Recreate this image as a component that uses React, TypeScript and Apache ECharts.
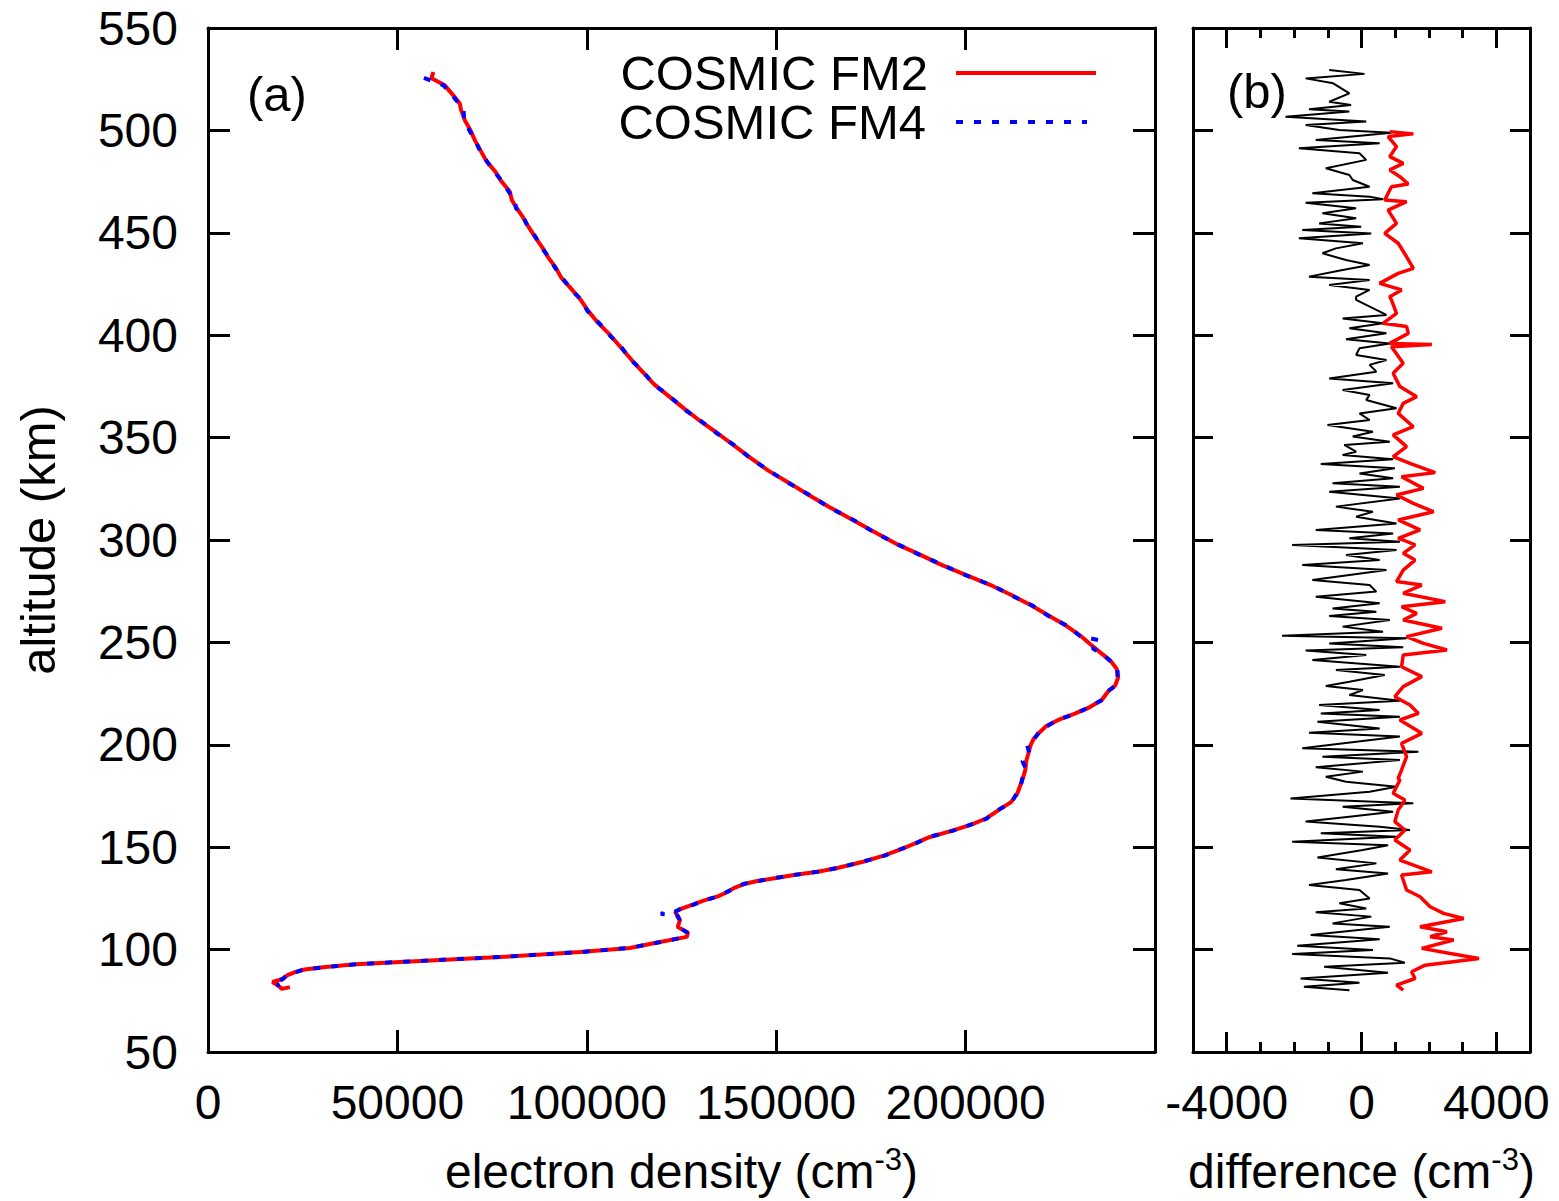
import React, { useEffect, useRef } from "react";
import * as echarts from "echarts";

// ---------- panel (a): electron density profiles ----------
const fm2Alt = [528.5, 525.5, 522, 517, 513, 510, 505, 500, 495, 490, 485, 480, 475, 470, 466, 462, 458, 453, 448, 443, 438, 433, 428, 422, 417, 412, 406, 400, 394, 388, 382, 376, 370, 364, 358, 352, 346, 340, 334, 328, 322, 316, 310, 304, 298, 293, 288, 283, 278, 273, 268, 263, 258, 253, 249, 245, 241, 237, 233, 229, 226, 222, 218, 215, 212, 209, 206, 203, 200, 196, 192, 188, 184, 180, 176, 172, 168, 164, 161, 158, 155, 152, 149, 146, 143, 140, 138, 136.5, 135, 133.5, 132, 130, 128, 126, 124, 122, 120, 118.5, 114.5, 111, 108.3, 106.2, 103.7, 100.8, 98.8, 97.6, 96.4, 95.2, 94, 92.8, 91.5, 90.3, 89, 87.5, 85.5, 84.2, 82.5, 80.8, 81.7];
const fm2Ne = [59500, 59000, 62500, 64800, 66500, 66800, 67800, 69300, 70500, 72000, 73500, 75800, 77500, 79700, 80200, 81500, 83000, 84600, 86300, 88200, 89800, 91800, 93300, 96200, 98500, 100300, 103000, 106200, 109000, 111800, 114800, 117800, 121800, 125800, 130000, 134600, 139000, 143300, 147800, 153300, 158600, 164100, 170000, 175800, 181800, 187800, 193500, 200000, 206600, 212200, 217400, 222000, 226700, 230500, 233000, 235600, 238300, 239900, 240300, 239500, 237600, 236000, 232400, 228500, 224300, 221200, 219500, 218000, 217200, 216600, 216000, 215800, 215200, 214400, 213600, 212000, 208600, 205400, 201500, 196300, 190600, 186800, 183000, 178600, 173200, 166400, 161000, 155000, 150000, 145000, 141500, 138800, 137000, 134600, 131000, 128000, 125000, 123300, 124600, 124000, 126700, 126400, 119300, 111400, 98200, 88000, 77100, 64000, 50700, 39000, 31000, 25500, 23000, 21000, 19500, 17000, 18500, 19500, 21600];

const fm4Alt = [525.6, 522, 517, 513, 510, 505, 500, 495, 490, 485, 480, 475, 470, 466, 462, 458, 453, 448, 443, 438, 433, 428, 422, 417, 412, 406, 400, 394, 388, 382, 376, 370, 364, 358, 352, 346, 340, 334, 328, 322, 316, 310, 304, 298, 293, 288, 283, 278, 273, 268, 263, 258, 253, 251, 247, 245, 241, 237, 233, 229, 226, 222, 218, 215, 212, 209, 206, 203, 200, 196, 192, 188, 184, 180, 176, 172, 168, 164, 161, 158, 155, 152, 149, 146, 143, 140, 138, 136.5, 135, 133.5, 132, 130, 128, 126, 124, 122, 120, 118.5, 117.5, 116.5, 114.5, 111, 108.3, 106.2, 103.7, 100.8, 98.8, 97.6, 96.4, 95.2, 94, 92.8, 91.5, 90.3, 89, 87.5, 85.5, 84.2, 83, 81.7];
const fm4Ne = [57000, 62200, 64500, 66300, 67500, 67600, 69000, 70600, 71800, 73600, 75500, 77700, 79400, 81000, 81300, 83200, 84400, 86500, 88000, 90000, 91600, 93500, 96000, 98700, 100100, 103200, 106000, 109200, 111600, 115000, 117600, 122000, 125600, 130200, 134400, 139200, 143100, 148000, 153100, 158800, 163900, 170200, 175600, 182000, 187600, 193700, 199800, 206800, 212000, 217600, 221800, 226900, 230300, 235500, 233500, 235800, 238100, 240100, 240100, 239700, 237400, 236200, 232200, 228700, 224100, 221400, 219300, 218200, 216200, 216800, 215000, 216000, 215000, 214600, 213400, 212200, 208400, 205600, 201300, 196500, 190400, 187000, 182800, 178800, 173000, 166600, 160800, 155200, 149800, 145200, 141300, 139000, 136800, 134800, 130800, 128200, 124800, 123300, 119500, 124000, 124400, 124200, 126500, 126200, 119500, 111200, 98400, 87800, 77300, 63800, 50900, 38800, 31200, 25300, 23200, 20800, 19700, 17200, 18500, 18500];

// ---------- panel (b): differences ----------
const diffAlt = [529.5, 527.6, 525.4, 523, 518.1, 514, 512.4, 510.3, 509.2, 506.7, 504.3, 502.6, 500.2, 498.9, 495.3, 493.7, 491.3, 488.8, 485.6, 481.5, 478.2, 475.8, 472.5, 469.3, 467.6, 466.4, 464.7, 462, 459.5, 457.1, 454.6, 453, 451.4, 449.7, 447.3, 444.9, 442.4, 440, 436.7, 434.3, 431.8, 428.6, 427, 424.5, 422.1, 418.8,
  417.2, 409.9, 408.2, 405.8, 403.4, 400.9, 398, 396, 393.6, 390.3, 387.9, 385.5, 382.2, 378.9, 376.5, 373.2, 370.8, 368.4, 364.3, 361.8, 358.6, 356.2, 352.9, 350.5, 348, 346.4, 343.1, 341.5, 339.4, 337.1, 335, 332.5, 330.1, 327.7, 326, 323.6, 320.3, 316.3, 313.8, 311.4, 308.1, 304.9, 303.2, 300.8,
  299.2, 297.6, 295.1, 292.7, 290.2, 287.8, 285.3, 280.5, 278, 274.8, 272.3, 269.1, 266.6, 265, 262.9, 260.9, 257.7, 255.2, 253.3, 252, 249.5, 247.6, 246, 243.8, 241.4, 238.1, 236.5, 234.1, 230.8, 228.7, 226.7, 224.3, 221.5, 219.4, 217, 215.3, 213.7, 211.3, 208, 205.9, 204, 198.3, 196.6, 194.2, 192.6, 189, 186.9, 184.4,
  182, 179.5, 177.1, 173.8, 171.4, 169.8, 167.3, 164.9, 162.5, 160, 158.4, 156.8, 155.1, 152.7, 151, 148.6, 145, 142.1, 139.2, 137.2, 134, 131.5, 129.1, 125, 122.6, 120.1, 118.2, 116.1, 112.8, 111.2, 107.1, 105, 101.9, 99.8, 97.8, 95.7, 93.6, 91.6, 88.7, 85.9, 83.8, 81.9, 80.2];
const diffVal = [-959, 90, -1658, -839, -360, -959, -310, -1558, -360, -2256, 140, -1658, -659, 889, -1358, 539, -1858, -60, 140, -1059, -360, -260, 240, -1458, 240, 639, -1658, -160, -1159, -160, -1258, -10, -1758, 290, -1858, 40, -759, -1159, -460, 240, -560, -1558, 240, -959, 240, -160,
  -160, 739, -560, 639, -360, 739, -460, 839, -60, -160, 739, 240, 440, -959, 939, -560, 240, 140, 1039, -60, 240, -1009, 340, -260, 839, -510, -160, -560, 939, -1209, 989, -60, 939, -859, 1139, -959, 1139, -759, 340, -160, 1039, -1358, 939, -360,
  1139, -2057, 1039, -460, 539, -1758, 739, -1458, 240, 440, -1358, 539, -859, 440, -959, 839, -560, 639, -2357, 1338, -959, 1238, -1658, 140, -1458, 1139, -759, 689, -360, -1059, 40, -360, 1139, -1258, 539, -1209, 1139, -1308, 539, -1558, 1139, -1758, 1688, -1159, 1139, -1358, 40, -1059,
  -460, 1039, 240, -2107, 1538, -560, 939, -360, -1658, 539, 1438, -1209, 1039, -2057, 789, 40, -1308, 440, -759, 789, -460, -1558, -60, 240, -659, 140, -1358, 290, -859, 839, -1508, 539, -1908, 340, -2057, 839, 1288, -1109, 789, -1808, -60, -1708, -360];

const spreadAlt = [499.4, 498.3, 497, 492.1, 487.2, 483.9, 480.7, 477.4, 473.8, 472.5, 466, 465.2, 461.1, 454.6, 449.7, 444.9, 438.3, 432.6, 430.2, 425.3, 422.1, 418.8,
  417.2, 410.7, 405.8, 404.2, 400.9, 396, 395.5, 394.4, 386.3, 381.4, 374.9, 370, 366.7, 361.8, 355.3, 351.3, 345.6, 340.7, 337.4, 332.9, 330.9, 325.2, 322, 317.9, 313.8, 309.8, 304.9, 300.8,
  300, 297.6, 293.5, 290.2, 285.3, 279.7, 278, 274, 269.9, 267.4, 264.2, 260.9, 256.9, 252.8, 249.5, 246.3, 243.8, 238.1, 233.3, 228.4, 223.5, 219.4, 215.3, 212.1, 205.6, 200.7, 194.2, 187.7, 183.6,
  182.8, 176.3, 173, 168.1, 162.5, 158.4, 153.5, 148.6, 143.7, 138, 136.4, 129.1, 125.8, 120.9, 117.7, 115.2, 111.2, 108.7, 106.3, 104.7, 100.6, 98.1, 95.7, 92.4, 89.2, 85.9, 82.7, 80.2];
const spreadVal = [839, 1538, 789, 1039, 839, 1238, 839, 1139, 1388, 889, 689, 1338, 789, 1039, 689, 1089, 1338, 1538, 1089, 539, 1189, 839,
  889, 1039, 639, 1338, 1388, 839, 2087, 889, 1238, 939, 1139, 1638, 1238, 1089, 1538, 939, 1338, 939, 1438, 2187, 1189, 1838, 1039, 1538, 2137, 1089, 1738, 1089,
  1238, 1588, 1238, 1588, 1238, 1039, 1788, 1238, 2486, 1189, 1638, 1238, 2386, 1338, 1838, 2536, 1238, 1189, 1788, 1238, 989, 1438, 1688, 1139, 1788, 1189, 1338, 1189, 1089,
  1139, 939, 1288, 1089, 989, 1288, 989, 1438, 1139, 2087, 1189, 1338, 1738, 2037, 2436, 3035, 1738, 2536, 2037, 2736, 1788, 2636, 3485, 1888, 1488, 1588, 1039, 1238];

// ---------- axes ----------
const altTicks = [50, 100, 150, 200, 250, 300, 350, 400, 450, 500, 550];
const densityTicks = [0, 50000, 100000, 150000, 200000];
const diffMajor = [-4000, 0, 4000];
const diffMinor = [-3000, -2000, -1000, 1000, 2000, 3000];

const FONT = "Liberation Sans";
const FS = 48;

const zip = (xs: number[], ys: number[]) => xs.map((x, i) => [x, ys[i]]);

export default function App() {
  const ref = useRef<HTMLDivElement>(null);
  useEffect(() => {
    if (!ref.current) return;
    const chart = echarts.init(ref.current, undefined, { renderer: "svg" });
    const axisLine = { show: true, onZero: false, lineStyle: { color: "#000", width: 3 } };
    const noLine = { show: false, onZero: false };
    const tick = (len: number, extra: any = {}) => ({ show: true, inside: true, length: len, lineStyle: { color: "#000", width: 3 }, ...extra });
    const label = { color: "#000", fontSize: FS, fontFamily: FONT };
    const rich = {
      a: { fontSize: FS, fontFamily: FONT, color: "#000", lineHeight: 54 },
      s: { fontSize: 31, fontFamily: FONT, color: "#000", verticalAlign: "top", lineHeight: 54 },
    };
    const option: any = {
      animation: false,
      backgroundColor: "#fff",
      grid: [
        { left: 208, top: 28, width: 947, height: 1024 },
        { left: 1193, top: 28, width: 337, height: 1024 },
      ],
      xAxis: [
        {
          type: "value", gridIndex: 0, position: "bottom", min: 0, max: 250000, interval: 50000,
          axisLine, axisTick: tick(22), splitLine: { show: false },
          axisLabel: { ...label, margin: 26, formatter: (v: number) => (densityTicks.includes(v) ? String(v) : "") },
          name: "{a|electron density (cm}{s|-3}{a|)}", nameLocation: "middle", nameGap: 92,
          nameTextStyle: { rich },
        },
        {
          type: "value", gridIndex: 0, position: "top", min: 0, max: 250000, interval: 50000,
          axisLine, axisTick: tick(22), axisLabel: { show: false }, splitLine: { show: false },
        },
        {
          type: "value", gridIndex: 1, position: "bottom", min: -5000, max: 5000,
          axisLine, axisTick: tick(20, { customValues: diffMajor }), splitLine: { show: false },
          axisLabel: { ...label, margin: 26, customValues: diffMajor, formatter: (v: number) => String(v) },
          name: "{a|difference (cm}{s|-3}{a|)}", nameLocation: "middle", nameGap: 92,
          nameTextStyle: { rich },
        },
        {
          type: "value", gridIndex: 1, position: "bottom", min: -5000, max: 5000,
          axisLine: noLine, axisTick: tick(10, { customValues: diffMinor }), axisLabel: { show: false }, splitLine: { show: false },
        },
        {
          type: "value", gridIndex: 1, position: "top", min: -5000, max: 5000,
          axisLine, axisTick: tick(20, { customValues: diffMajor }), axisLabel: { show: false }, splitLine: { show: false },
        },
        {
          type: "value", gridIndex: 1, position: "top", min: -5000, max: 5000,
          axisLine: noLine, axisTick: tick(10, { customValues: diffMinor }), axisLabel: { show: false }, splitLine: { show: false },
        },
      ],
      yAxis: [
        {
          type: "value", gridIndex: 0, position: "left", min: 50, max: 550, interval: 50,
          axisLine, axisTick: tick(22), splitLine: { show: false },
          axisLabel: { ...label, margin: 30, formatter: (v: number) => (altTicks.includes(v) ? String(v) : "") },
          name: "altitude (km)", nameLocation: "middle", nameGap: 146, nameRotate: 90,
          nameTextStyle: { color: "#000", fontSize: 49, fontFamily: FONT },
        },
        {
          type: "value", gridIndex: 0, position: "right", min: 50, max: 550, interval: 50,
          axisLine, axisTick: tick(22), axisLabel: { show: false }, splitLine: { show: false },
        },
        {
          type: "value", gridIndex: 1, position: "left", min: 50, max: 550, interval: 50,
          axisLine, axisTick: tick(20), axisLabel: { show: false }, splitLine: { show: false },
        },
        {
          type: "value", gridIndex: 1, position: "right", min: 50, max: 550, interval: 50,
          axisLine, axisTick: tick(20), axisLabel: { show: false }, splitLine: { show: false },
        },
      ],
      series: [
        {
          name: "COSMIC FM2", type: "line", xAxisIndex: 0, yAxisIndex: 0, showSymbol: false, symbol: "none",
          data: zip(fm2Ne, fm2Alt), lineStyle: { color: "#ff0000", width: 4 }, itemStyle: { color: "#ff0000" },
        },
        {
          name: "COSMIC FM4", type: "line", xAxisIndex: 0, yAxisIndex: 0, showSymbol: false, symbol: "none",
          data: zip(fm4Ne, fm4Alt), lineStyle: { color: "#0000ff", width: 4, type: [7, 11] }, itemStyle: { color: "#0000ff" },
        },
        {
          name: "difference", type: "line", xAxisIndex: 2, yAxisIndex: 2, showSymbol: false, symbol: "none",
          data: zip(diffVal, diffAlt), lineStyle: { color: "#000", width: 2 }, itemStyle: { color: "#000" },
        },
        {
          name: "spread", type: "line", xAxisIndex: 2, yAxisIndex: 2, showSymbol: false, symbol: "none",
          data: zip(spreadVal, spreadAlt), lineStyle: { color: "#ff0000", width: 3.5 }, itemStyle: { color: "#ff0000" },
        },
      ],
      graphic: [
        { type: "text", left: 247, top: 69, style: { text: "(a)", fontSize: 49, fontFamily: FONT, fill: "#000" } },
        { type: "text", left: 1227, top: 66, style: { text: "(b)", fontSize: 49, fontFamily: FONT, fill: "#000" } },
        { type: "text", x: 928, y: 73, style: { text: "COSMIC FM2", fontSize: 49, fontFamily: FONT, fill: "#000", align: "right", verticalAlign: "middle" } },
        { type: "line", shape: { x1: 956, y1: 73, x2: 1096, y2: 73 }, style: { stroke: "#ff0000", lineWidth: 4 } },
        { type: "text", x: 926, y: 122, style: { text: "COSMIC FM4", fontSize: 49, fontFamily: FONT, fill: "#000", align: "right", verticalAlign: "middle" } },
        { type: "line", shape: { x1: 956, y1: 122, x2: 1087, y2: 122 }, style: { stroke: "#0000ff", lineWidth: 4, lineDash: [7, 11] } },
      ],
    };
    chart.setOption(option);
    return () => chart.dispose();
  }, []);
  return (
    <div
      ref={ref}
      style={{ position: "fixed", left: 0, top: 0, width: 1559, height: 1201, background: "#fff" }}
    />
  );
}
